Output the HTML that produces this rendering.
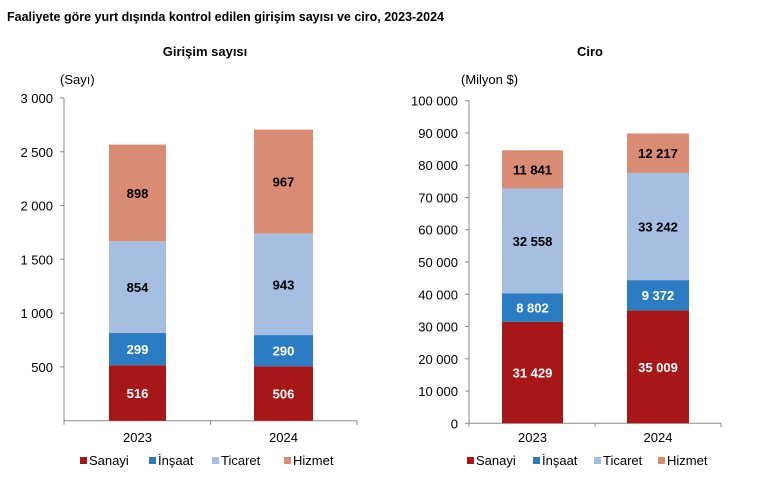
<!DOCTYPE html>
<html><head><meta charset="utf-8"><style>
body{margin:0;background:#fff;width:769px;height:490px;overflow:hidden;font-family:"Liberation Sans",Arial,sans-serif}
</style></head><body>
<svg id="s" width="769" height="490" xmlns="http://www.w3.org/2000/svg" font-family="Liberation Sans, Arial, sans-serif">
<text x="7" y="21" font-size="12.5" font-weight="bold" fill="#000">Faaliyete göre yurt dışında kontrol edilen girişim sayısı ve ciro, 2023-2024</text>
<text x="205" y="56" font-size="13" font-weight="bold" text-anchor="middle">Girişim sayısı</text>
<text x="590" y="56" font-size="13" font-weight="bold" text-anchor="middle">Ciro</text>
<text x="60" y="84" font-size="13">(Sayı)</text>
<text x="461" y="84" font-size="13">(Milyon $)</text>
</svg>
<script>
const s=document.getElementById('s');const NS='http://www.w3.org/2000/svg';
function el(t,a,txt){const e=document.createElementNS(NS,t);for(const k in a)e.setAttribute(k,a[k]);if(txt!==undefined)e.textContent=txt;s.appendChild(e);return e;}
const C=['#A81717','#2B7CC2','#A5BEE2','#D98B74'];
const TC=['#fff','#fff','#000','#000'];
function fmt(v){return v.toString().replace(/\B(?=(\d{3})+(?!\d))/g,' ');}
function chart(o){
  const sc=(o.y0-o.yTop)/o.max;
  for(let v=o.step;v<=o.max;v+=o.step){} 
  for(let v=o.zero?0:o.step;v<=o.max;v+=o.step){
    const y=o.y0-v*sc;
    el('text',{x:o.lx,y:y+5,'font-size':13,'text-anchor':'end'},fmt(v));
    el('line',{x1:o.ax-4,x2:o.ax,y1:y,y2:y,stroke:'#888'});
  }
  el('line',{x1:o.ax,x2:o.ax,y1:o.yTop,y2:o.y0,stroke:'#888'});
  el('line',{x1:o.ax,x2:o.axR,y1:o.y0,y2:o.y0,stroke:'#888'});
  const mid=(o.ax+o.axR)/2;
  [o.ax,mid,o.axR].forEach(x=>el('line',{x1:x,x2:x,y1:o.y0,y2:o.y0+4,stroke:'#888'}));
  o.bars.forEach((b,i)=>{
    let cum=0;
    b.vals.forEach((v,j)=>{
      const y1=o.y0-cum*sc, y2=o.y0-(cum+v)*sc;
      el('rect',{x:b.x,y:y2,width:b.w,height:y1-y2,fill:C[j]});
      el('text',{x:b.x+b.w/2,y:(y1+y2)/2+5,'font-size':13,'font-weight':'bold','text-anchor':'middle',fill:TC[j]},fmt(v));
      cum+=v;
    });
    el('text',{x:b.x+b.w/2,y:442,'font-size':13,'text-anchor':'middle'},b.yr);
  });
  const names=['Sanayi','İnşaat','Ticaret','Hizmet'];
  o.leg.forEach((x,i)=>{
    el('rect',{x:x,y:457,width:7,height:7,fill:C[i]});
    el('text',{x:x+9,y:465,'font-size':13},names[i]);
  });
}
chart({ax:64,axR:357,y0:420.7,yTop:98,max:3000,step:500,zero:false,lx:53,
  bars:[{x:109,w:57,yr:'2023',vals:[516,299,854,898]},{x:254,w:59,yr:'2024',vals:[506,290,943,967]}],
  leg:[80,149,212,284]});
chart({ax:469,axR:721,y0:423.3,yTop:100.7,max:100000,step:10000,zero:true,lx:458,
  bars:[{x:502,w:61,yr:'2023',vals:[31429,8802,32558,11841]},{x:627,w:62,yr:'2024',vals:[35009,9372,33242,12217]}],
  leg:[467,533,594,658]});
</script>
</body></html>
